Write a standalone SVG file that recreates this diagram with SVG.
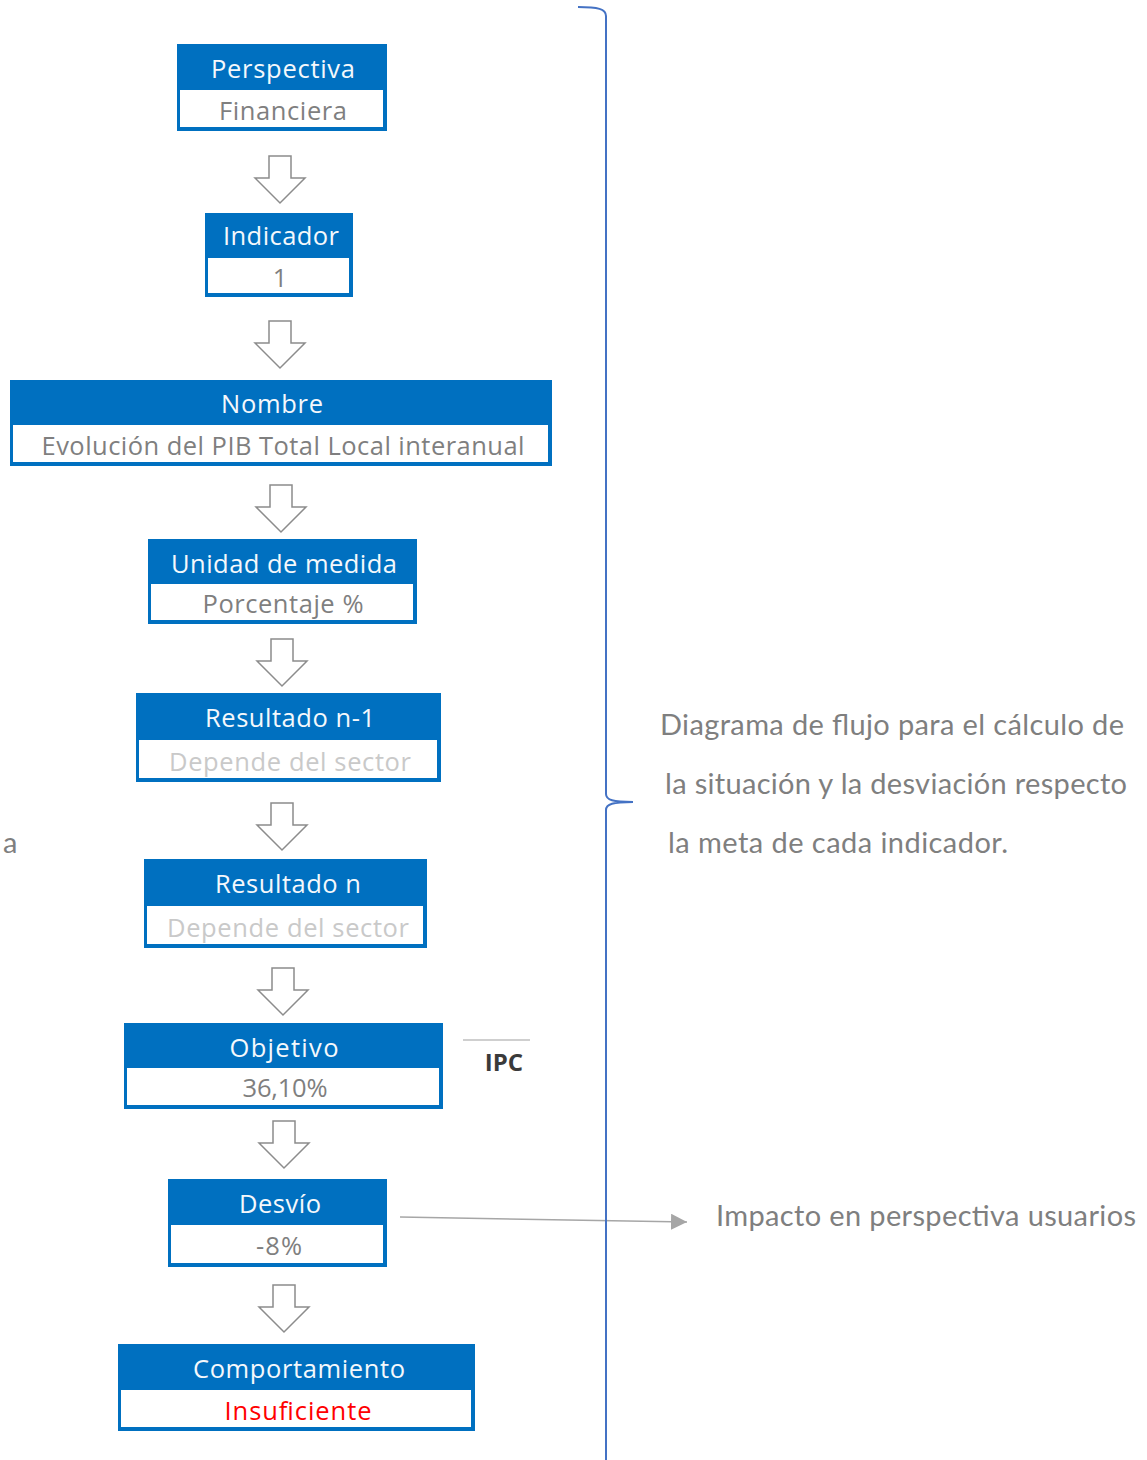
<svg xmlns="http://www.w3.org/2000/svg" width="1147" height="1460" viewBox="0 0 1147 1460">
  <style>
    .frame { fill: #0070C0; }
    .cell { fill: #FFFFFF; }
    .head { font-family: "Open Sans", "DejaVu Sans", sans-serif; font-size: 25.5px; fill: #F4F8FC; text-anchor: middle; }
    .val { font-family: "Open Sans", "DejaVu Sans", sans-serif; font-size: 25.5px; fill: #7F7F7F; text-anchor: middle; }
    .faint { fill: #C9C9C9; }
    .alert { fill: #FF0000; }
    .down { fill: #FFFFFF; stroke: #8C8C8C; stroke-width: 1.5; stroke-linejoin: miter; }
    .note { font-family: "Lato", "Liberation Sans", sans-serif; font-size: 29px; fill: #7F7F7F; }
    .brace { fill: none; stroke: #4472C4; stroke-width: 2; }
    .link { stroke: #A6A6A6; stroke-width: 1.5; fill: none; }
  </style>
  <defs>
    <marker id="tri" viewBox="0 0 16 16" refX="16" refY="8" markerWidth="16" markerHeight="16" markerUnits="userSpaceOnUse" orient="auto">
      <path d="M0,0 L16,8 L0,16 Z" fill="#A6A6A6"/>
    </marker>
    <!-- hollow block arrow, origin at the top of its shaft centre -->
    <path id="down" d="M-11,0 H11 V22 H25 L0,47 L-25,22 H-11 Z"/>
  </defs>

  <rect width="1147" height="1460" fill="#FFFFFF"/>

  <!-- connectors -->
  <g id="connectors">
    <use href="#down" class="down" x="280" y="156"/>
    <use href="#down" class="down" x="280" y="321"/>
    <use href="#down" class="down" x="281" y="485"/>
    <use href="#down" class="down" x="282" y="639"/>
    <use href="#down" class="down" x="282" y="803"/>
    <use href="#down" class="down" x="283" y="968"/>
    <use href="#down" class="down" x="284" y="1121"/>
    <use href="#down" class="down" x="284" y="1285"/>
    <path class="link" d="M400,1217 L687,1222" marker-end="url(#tri)"/>
  </g>

  <!-- brace grouping the flow -->
  <path class="brace" d="M578,7 C598,7 606,9 606,16 L606,794 C606,800 613,802 633,802 M633,802 C613,802 606,804 606,810 L606,1460"/>

  <g id="n-perspectiva">
    <rect class="frame" x="177" y="44" width="210" height="87"/>
    <rect class="cell" x="180" y="90" width="203" height="37"/>
    <text class="head" x="283" y="78" textLength="144">Perspectiva</text>
    <text class="val" x="283" y="120" textLength="128">Financiera</text>
  </g>

  <g id="n-indicador">
    <rect class="frame" x="205" y="213" width="148" height="84"/>
    <rect class="cell" x="208" y="258" width="141" height="35"/>
    <text class="head" x="281" y="245" textLength="116">Indicador</text>
    <text class="val" x="280" y="287">1</text>
  </g>

  <g id="n-nombre">
    <rect class="frame" x="10" y="380" width="542" height="86"/>
    <rect class="cell" x="13" y="425" width="535" height="37"/>
    <text class="head" x="272" y="413" textLength="102">Nombre</text>
    <text class="val" x="283" y="455" textLength="483">Evolución del PIB Total Local interanual</text>
  </g>

  <g id="n-unidad">
    <rect class="frame" x="148" y="539" width="269" height="85"/>
    <rect class="cell" x="151" y="584" width="262" height="36"/>
    <text class="head" x="284" y="573" textLength="226">Unidad de medida</text>
    <text class="val" x="283" y="613" textLength="161">Porcentaje %</text>
  </g>

  <g id="n-resultado-prev">
    <rect class="frame" x="136" y="693" width="305" height="89"/>
    <rect class="cell" x="139" y="740" width="298" height="38"/>
    <text class="head" x="290" y="727" textLength="170">Resultado n-1</text>
    <text class="val faint" x="290" y="771" textLength="242">Depende del sector</text>
  </g>

  <g id="n-resultado">
    <rect class="frame" x="144" y="859" width="283" height="89"/>
    <rect class="cell" x="147" y="906" width="276" height="38"/>
    <text class="head" x="288" y="893" textLength="146">Resultado n</text>
    <text class="val faint" x="288" y="937" textLength="242">Depende del sector</text>
  </g>

  <g id="n-objetivo">
    <rect class="frame" x="124" y="1023" width="319" height="86"/>
    <rect class="cell" x="127" y="1068" width="312" height="37"/>
    <text class="head" x="284" y="1057" textLength="109">Objetivo</text>
    <text class="val" x="285" y="1097" textLength="85">36,10%</text>
  </g>

  <g id="n-desvio">
    <rect class="frame" x="168" y="1179" width="219" height="88"/>
    <rect class="cell" x="171" y="1225" width="212" height="38"/>
    <text class="head" x="280" y="1213" textLength="82">Desvío</text>
    <text class="val" x="279" y="1255" textLength="46">-8%</text>
  </g>

  <g id="n-comportamiento">
    <rect class="frame" x="118" y="1344" width="357" height="87"/>
    <rect class="cell" x="121" y="1390" width="350" height="37"/>
    <text class="head" x="299" y="1378" textLength="212">Comportamiento</text>
    <text class="val alert" x="298" y="1420" textLength="147">Insuficiente</text>
  </g>

  <!-- side annotations -->
  <g id="ipc">
    <line x1="463" y1="1040" x2="530" y2="1040" stroke="#BFBFBF" stroke-width="1.5"/>
    <text x="504" y="1071" font-family="Open Sans, DejaVu Sans, sans-serif" font-size="24" font-weight="700" fill="#3A3A3A" text-anchor="middle">IPC</text>
  </g>

  <text class="note" x="3" y="853">a</text>
  <text class="note" x="660" y="735" textLength="464">Diagrama de flujo para el cálculo de</text>
  <text class="note" x="665" y="794" textLength="462">la situación y la desviación respecto</text>
  <text class="note" x="668" y="853" textLength="340">la meta de cada indicador.</text>
  <text class="note" x="716" y="1226" textLength="420">Impacto en perspectiva usuarios</text>
</svg>
